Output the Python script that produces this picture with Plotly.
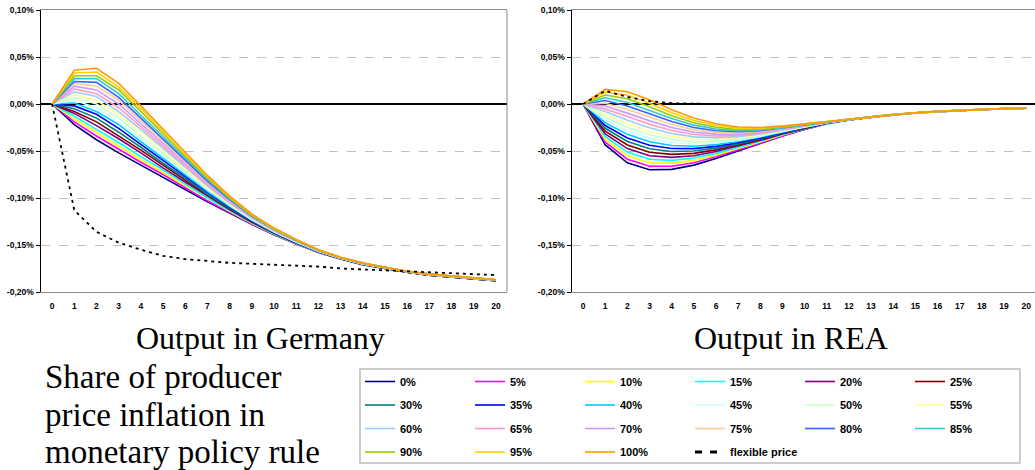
import plotly.graph_objects as go

W, H = 1035, 470

PERIODS = list(range(21))
SHARES = ["0%", "5%", "10%", "15%", "20%", "25%", "30%", "35%", "40%", "45%", "50%",
          "55%", "60%", "65%", "70%", "75%", "80%", "85%", "90%", "95%", "100%"]
COLORS = ["#000080", "#FF00FF", "#FFFF00", "#00FFFF", "#800080", "#800000", "#008080",
          "#0000FF", "#00CCFF", "#CCFFFF", "#CCFFCC", "#FFFF99", "#99CCFF", "#FF99CC",
          "#CC99FF", "#FFCC99", "#3366FF", "#33CCCC", "#99CC00", "#FFCC00", "#FF9900"]
FLEX_NAME = "flexible price"

Y_TICKS = [-0.20, -0.15, -0.10, -0.05, 0.00, 0.05, 0.10]
Y_TICKTEXT = ["-0,20%", "-0,15%", "-0,10%", "-0,05%", "0,00%", "0,05%", "0,10%"]

# ---- Output in Germany (percent deviation) ----
GER_00 = [0, -0.022, -0.038, -0.052, -0.065, -0.078, -0.091, -0.104, -0.116, -0.128, -0.139, -0.149, -0.158, -0.165, -0.171, -0.175, -0.179, -0.182, -0.184, -0.186, -0.188]
GER_05 = [0, -0.019, -0.034, -0.048, -0.062, -0.075, -0.089, -0.103, -0.1151, -0.1275, -0.1387, -0.1488, -0.1579, -0.1649, -0.1709, -0.175, -0.179, -0.182, -0.184, -0.186, -0.188]
GER_10 = [0, -0.016, -0.030, -0.045, -0.059, -0.073, -0.087, -0.101, -0.1142, -0.1269, -0.1383, -0.1485, -0.1577, -0.1648, -0.1708, -0.175, -0.179, -0.182, -0.184, -0.186, -0.188]
GER_15 = [0, -0.013, -0.027, -0.041, -0.056, -0.070, -0.085, -0.100, -0.1133, -0.1264, -0.1380, -0.1483, -0.1576, -0.1647, -0.1707, -0.175, -0.179, -0.182, -0.184, -0.186, -0.188]
GER_20 = [0, -0.010, -0.023, -0.037, -0.052, -0.068, -0.083, -0.098, -0.1124, -0.1258, -0.1376, -0.1480, -0.1574, -0.1646, -0.1706, -0.175, -0.179, -0.182, -0.184, -0.186, -0.188]
GER_25 = [0, -0.008, -0.019, -0.034, -0.049, -0.065, -0.081, -0.097, -0.1115, -0.1253, -0.1373, -0.1478, -0.1573, -0.1645, -0.1705, -0.175, -0.179, -0.182, -0.184, -0.186, -0.188]
GER_30 = [0, -0.005, -0.015, -0.030, -0.046, -0.063, -0.079, -0.096, -0.1106, -0.1247, -0.1369, -0.1475, -0.1571, -0.1644, -0.1704, -0.175, -0.179, -0.182, -0.184, -0.186, -0.188]
GER_35 = [0, -0.002, -0.011, -0.026, -0.043, -0.060, -0.077, -0.094, -0.1097, -0.1242, -0.1366, -0.1473, -0.1570, -0.1643, -0.1703, -0.1745, -0.1785, -0.1815, -0.1835, -0.1855, -0.1875]
GER_40 = [0, 0.001, -0.008, -0.022, -0.040, -0.058, -0.075, -0.093, -0.1088, -0.1236, -0.1362, -0.1470, -0.1568, -0.1642, -0.1702, -0.1745, -0.1785, -0.1815, -0.1835, -0.1855, -0.1875]
GER_45 = [0, 0.004, -0.004, -0.019, -0.037, -0.055, -0.074, -0.091, -0.1079, -0.1231, -0.1359, -0.1468, -0.1567, -0.1641, -0.1701, -0.1745, -0.1785, -0.1815, -0.1835, -0.1855, -0.1875]
GER_50 = [0, 0.007, 0.000, -0.015, -0.034, -0.053, -0.072, -0.090, -0.1070, -0.1225, -0.1355, -0.1465, -0.1565, -0.1640, -0.1700, -0.1745, -0.1785, -0.1815, -0.1835, -0.1855, -0.1875]
GER_55 = [0, 0.010, 0.004, -0.011, -0.030, -0.050, -0.070, -0.089, -0.1061, -0.1220, -0.1352, -0.1463, -0.1564, -0.1639, -0.1699, -0.1745, -0.1785, -0.1815, -0.1835, -0.1855, -0.1875]
GER_60 = [0, 0.013, 0.008, -0.008, -0.027, -0.047, -0.068, -0.087, -0.1052, -0.1214, -0.1348, -0.1460, -0.1562, -0.1638, -0.1698, -0.1745, -0.1785, -0.1815, -0.1835, -0.1855, -0.1875]
GER_65 = [0, 0.016, 0.011, -0.004, -0.024, -0.045, -0.066, -0.086, -0.1043, -0.1209, -0.1345, -0.1458, -0.1561, -0.1637, -0.1697, -0.1745, -0.1785, -0.1815, -0.1835, -0.1855, -0.1875]
GER_70 = [0, 0.019, 0.015, 0.000, -0.021, -0.042, -0.064, -0.084, -0.1034, -0.1203, -0.1341, -0.1455, -0.1559, -0.1636, -0.1696, -0.174, -0.178, -0.181, -0.183, -0.185, -0.187]
GER_75 = [0, 0.022, 0.019, 0.004, -0.018, -0.040, -0.062, -0.083, -0.1025, -0.1198, -0.1338, -0.1453, -0.1558, -0.1635, -0.1695, -0.174, -0.178, -0.181, -0.183, -0.185, -0.187]
GER_80 = [0, 0.024, 0.023, 0.007, -0.015, -0.037, -0.060, -0.082, -0.1016, -0.1192, -0.1334, -0.1450, -0.1556, -0.1634, -0.1694, -0.174, -0.178, -0.181, -0.183, -0.185, -0.187]
GER_85 = [0, 0.027, 0.027, 0.011, -0.012, -0.035, -0.058, -0.080, -0.1007, -0.1187, -0.1331, -0.1448, -0.1555, -0.1633, -0.1693, -0.174, -0.178, -0.181, -0.183, -0.185, -0.187]
GER_90 = [0, 0.030, 0.030, 0.015, -0.008, -0.032, -0.056, -0.079, -0.0998, -0.1181, -0.1327, -0.1445, -0.1553, -0.1632, -0.1692, -0.174, -0.178, -0.181, -0.183, -0.185, -0.187]
GER_95 = [0, 0.033, 0.034, 0.018, -0.005, -0.030, -0.054, -0.077, -0.0989, -0.1176, -0.1324, -0.1443, -0.1552, -0.1631, -0.1691, -0.174, -0.178, -0.181, -0.183, -0.185, -0.187]
GER_100 = [0, 0.036, 0.038, 0.022, -0.002, -0.027, -0.052, -0.076, -0.098, -0.117, -0.132, -0.144, -0.155, -0.163, -0.169, -0.174, -0.178, -0.181, -0.183, -0.185, -0.187]
GER_FLEX = [0, -0.113, -0.136, -0.1475, -0.155, -0.1615, -0.165, -0.167, -0.169, -0.170, -0.171, -0.172, -0.173, -0.175, -0.176, -0.177, -0.178, -0.179, -0.180, -0.181, -0.182]

# ---- Output in REA (percent deviation) ----
REA_00 = [0, -0.0435, -0.0625, -0.0700, -0.0695, -0.065, -0.058, -0.050, -0.042, -0.034, -0.027, -0.021, -0.0170, -0.0140, -0.0115, -0.0095, -0.0080, -0.0068, -0.0058, -0.0050, -0.0045]
REA_05 = [0, -0.0406, -0.0587, -0.0663, -0.0663, -0.0625, -0.0562, -0.0487, -0.0412, -0.0335, -0.0267, -0.0209, -0.0170, -0.0140, -0.0115, -0.0095, -0.0080, -0.0068, -0.0058, -0.0050, -0.0045]
REA_10 = [0, -0.0376, -0.0550, -0.0626, -0.0632, -0.0600, -0.0543, -0.0475, -0.0403, -0.0330, -0.0264, -0.0208, -0.0169, -0.0140, -0.0115, -0.0095, -0.0080, -0.0068, -0.0058, -0.0050, -0.0045]
REA_15 = [0, -0.0347, -0.0512, -0.0588, -0.0600, -0.0575, -0.0525, -0.0462, -0.0395, -0.0324, -0.0261, -0.0206, -0.0169, -0.0140, -0.0115, -0.0095, -0.0080, -0.0068, -0.0058, -0.0050, -0.0045]
REA_20 = [0, -0.0317, -0.0474, -0.0551, -0.0568, -0.0550, -0.0506, -0.0449, -0.0386, -0.0319, -0.0258, -0.0205, -0.0168, -0.0140, -0.0115, -0.0095, -0.0080, -0.0068, -0.0058, -0.0050, -0.0045]
REA_25 = [0, -0.0288, -0.0436, -0.0514, -0.0536, -0.0525, -0.0488, -0.0436, -0.0378, -0.0314, -0.0255, -0.0204, -0.0168, -0.0140, -0.0115, -0.0095, -0.0080, -0.0068, -0.0058, -0.0050, -0.0045]
REA_30 = [0, -0.0258, -0.0399, -0.0477, -0.0505, -0.0500, -0.0469, -0.0424, -0.0369, -0.0309, -0.0252, -0.0203, -0.0167, -0.0140, -0.0115, -0.0095, -0.0080, -0.0068, -0.0058, -0.0050, -0.0045]
REA_35 = [0, -0.0229, -0.0361, -0.0439, -0.0473, -0.0475, -0.0451, -0.0411, -0.0361, -0.0303, -0.0249, -0.0201, -0.0167, -0.0138, -0.0113, -0.0094, -0.0079, -0.0067, -0.0057, -0.0050, -0.0044]
REA_40 = [0, -0.0199, -0.0323, -0.0402, -0.0441, -0.0450, -0.0432, -0.0398, -0.0352, -0.0298, -0.0246, -0.0200, -0.0166, -0.0138, -0.0113, -0.0094, -0.0079, -0.0067, -0.0057, -0.0050, -0.0044]
REA_45 = [0, -0.0170, -0.0285, -0.0365, -0.0409, -0.0425, -0.0414, -0.0385, -0.0344, -0.0293, -0.0243, -0.0199, -0.0166, -0.0138, -0.0113, -0.0094, -0.0079, -0.0067, -0.0057, -0.0050, -0.0044]
REA_50 = [0, -0.0140, -0.0248, -0.0328, -0.0378, -0.0400, -0.0395, -0.0373, -0.0335, -0.0288, -0.0240, -0.0198, -0.0165, -0.0138, -0.0113, -0.0094, -0.0079, -0.0067, -0.0057, -0.0050, -0.0044]
REA_55 = [0, -0.0111, -0.0210, -0.0290, -0.0346, -0.0375, -0.0377, -0.0360, -0.0327, -0.0282, -0.0237, -0.0196, -0.0165, -0.0138, -0.0113, -0.0094, -0.0079, -0.0067, -0.0057, -0.0050, -0.0044]
REA_60 = [0, -0.0081, -0.0172, -0.0253, -0.0314, -0.0350, -0.0358, -0.0347, -0.0318, -0.0277, -0.0234, -0.0195, -0.0164, -0.0138, -0.0113, -0.0094, -0.0079, -0.0067, -0.0057, -0.0050, -0.0044]
REA_65 = [0, -0.0052, -0.0134, -0.0216, -0.0282, -0.0325, -0.0340, -0.0334, -0.0310, -0.0272, -0.0231, -0.0194, -0.0164, -0.0138, -0.0113, -0.0094, -0.0079, -0.0067, -0.0057, -0.0050, -0.0044]
REA_70 = [0, -0.0022, -0.0097, -0.0179, -0.0251, -0.0300, -0.0321, -0.0322, -0.0301, -0.0267, -0.0228, -0.0193, -0.0163, -0.0135, -0.0110, -0.0093, -0.0078, -0.0066, -0.0056, -0.0049, -0.0043]
REA_75 = [0, 0.0008, -0.0059, -0.0141, -0.0219, -0.0275, -0.0303, -0.0309, -0.0293, -0.0261, -0.0225, -0.0191, -0.0163, -0.0135, -0.0110, -0.0093, -0.0078, -0.0066, -0.0056, -0.0049, -0.0043]
REA_80 = [0, 0.0037, -0.0021, -0.0104, -0.0187, -0.0250, -0.0284, -0.0296, -0.0284, -0.0256, -0.0222, -0.0190, -0.0162, -0.0135, -0.0110, -0.0093, -0.0078, -0.0066, -0.0056, -0.0049, -0.0043]
REA_85 = [0, 0.0067, 0.0017, -0.0067, -0.0155, -0.0225, -0.0266, -0.0283, -0.0276, -0.0251, -0.0219, -0.0189, -0.0162, -0.0135, -0.0110, -0.0093, -0.0078, -0.0066, -0.0056, -0.0049, -0.0043]
REA_90 = [0, 0.0096, 0.0055, -0.0030, -0.0124, -0.0200, -0.0247, -0.0271, -0.0267, -0.0246, -0.0216, -0.0188, -0.0161, -0.0135, -0.0110, -0.0093, -0.0078, -0.0066, -0.0056, -0.0049, -0.0043]
REA_95 = [0, 0.0126, 0.0092, 0.0008, -0.0092, -0.0175, -0.0229, -0.0258, -0.0259, -0.0240, -0.0213, -0.0186, -0.0161, -0.0135, -0.0110, -0.0093, -0.0078, -0.0066, -0.0056, -0.0049, -0.0043]
REA_100 = [0, 0.0155, 0.0130, 0.0045, -0.0060, -0.0150, -0.0210, -0.0245, -0.0250, -0.0235, -0.0210, -0.0185, -0.0160, -0.0135, -0.0110, -0.0093, -0.0078, -0.0066, -0.0056, -0.0049, -0.0043]
REA_FLEX = [0, 0.014, 0.0075, 0.003, 0.0008, 0.0002, 0, 0, 0, 0, 0, 0, 0, 0, 0, 0, 0, 0, 0, 0, 0]

GER_SERIES = [GER_00, GER_05, GER_10, GER_15, GER_20, GER_25, GER_30, GER_35, GER_40, GER_45, GER_50,
              GER_55, GER_60, GER_65, GER_70, GER_75, GER_80, GER_85, GER_90, GER_95, GER_100]
REA_SERIES = [REA_00, REA_05, REA_10, REA_15, REA_20, REA_25, REA_30, REA_35, REA_40, REA_45, REA_50,
              REA_55, REA_60, REA_65, REA_70, REA_75, REA_80, REA_85, REA_90, REA_95, REA_100]

TITLE_LEFT = "Output in Germany"
TITLE_RIGHT = "Output in REA"
SIDE_TEXT = ["Share of producer", "price inflation in", "monetary policy rule"]


def legend_key(i):
    c = i % 6
    return "legend" if c == 0 else "legend%d" % (c + 1)


fig = go.Figure()

for i, name in enumerate(SHARES):
    lk = legend_key(i)
    fig.add_trace(go.Scatter(x=PERIODS, y=GER_SERIES[i], mode="lines", name=name,
                             line=dict(color=COLORS[i], width=1.6),
                             legend=lk, legendgroup=name, xaxis="x", yaxis="y"))
    fig.add_trace(go.Scatter(x=PERIODS, y=REA_SERIES[i], mode="lines", name=name,
                             line=dict(color=COLORS[i], width=1.6), showlegend=False,
                             legend=lk, legendgroup=name, xaxis="x2", yaxis="y2"))

flex_lk = legend_key(21)
fig.add_trace(go.Scatter(x=PERIODS, y=GER_FLEX, mode="lines", name=FLEX_NAME, showlegend=False,
                         line=dict(color="black", width=1.8, dash="3px,4px"),
                         legend=flex_lk, legendgroup=FLEX_NAME, xaxis="x", yaxis="y"))
fig.add_trace(go.Scatter(x=PERIODS, y=REA_FLEX, mode="lines", name=FLEX_NAME, showlegend=False,
                         line=dict(color="black", width=1.8, dash="3px,4px"),
                         legend=flex_lk, legendgroup=FLEX_NAME, xaxis="x2", yaxis="y2"))
# legend sample for the flexible-price line
fig.add_trace(go.Scatter(x=[None], y=[None], mode="lines", name=FLEX_NAME,
                         line=dict(color="black", width=3, dash="7px,8px"),
                         legend=flex_lk, legendgroup=FLEX_NAME, xaxis="x", yaxis="y"))

tickfont = dict(family="Liberation Sans", size=8.5, color="black", weight="bold")


def xaxis_cfg(domain, rng):
    return dict(domain=domain, range=rng, tickvals=PERIODS, ticktext=[str(p) for p in PERIODS],
                tickfont=tickfont, showgrid=False, zeroline=False, showline=True,
                linecolor="#8c8c8c", linewidth=1, mirror=True, ticks="outside",
                ticklen=6, tickcolor="rgba(0,0,0,0)", fixedrange=True)


def yaxis_cfg(domain, anchor):
    return dict(domain=domain, range=[-0.2, 0.1], tickvals=Y_TICKS, ticktext=Y_TICKTEXT,
                tickfont=tickfont, showgrid=True, gridcolor="#c0c0c0", griddash="dash",
                gridwidth=1, zeroline=True, zerolinecolor="black", zerolinewidth=1.5,
                showline=True, linecolor="black", linewidth=1.5, ticks="outside",
                ticklen=4, tickcolor="black", tickwidth=1, anchor=anchor, fixedrange=True)


ydom = [1 - 292 / H, 1 - 10 / H]
layout = dict(
    width=W, height=H, margin=dict(l=0, r=0, t=0, b=0, autoexpand=False),
    paper_bgcolor="white", plot_bgcolor="white",
    xaxis=xaxis_cfg([41 / W, 507 / W], [-0.5, 20.5]),
    yaxis=yaxis_cfg(ydom, "x"),
    xaxis2=dict(xaxis_cfg([572 / W, 1.0], [-0.5, 20.4]), anchor="y2"),
    yaxis2=yaxis_cfg(ydom, "x2"),
    showlegend=True,
)
layout["xaxis"]["anchor"] = "y"

col_x = [360, 470, 580, 690, 800, 910]
for c in range(6):
    key = "legend" if c == 0 else "legend%d" % (c + 1)
    layout[key] = dict(x=col_x[c] / W, y=1 - 367 / H, xanchor="left", yanchor="top",
                       orientation="v", bgcolor="rgba(0,0,0,0)", borderwidth=0,
                       tracegroupgap=4.5, itemwidth=30,
                       font=dict(family="Liberation Sans", size=11, color="black", weight="bold"))

fig.update_layout(**layout)

# plot-area right border of left chart and legend frame
fig.add_shape(type="line", xref="x domain", yref="y domain", x0=1, x1=1, y0=0, y1=1,
              line=dict(color="#8c8c8c", width=1))
fig.add_shape(type="rect", xref="paper", yref="paper", x0=360 / W, x1=1020 / W,
              y0=1 - 463 / H, y1=1 - 369 / H, line=dict(color="#bdbdbd", width=1.5),
              fillcolor="rgba(0,0,0,0)", layer="below")

serif = "Liberation Serif"
fig.add_annotation(text=TITLE_LEFT, xref="paper", yref="paper", x=260 / W, y=1 - 338 / H,
                   xanchor="center", yanchor="middle", showarrow=False,
                   font=dict(family=serif, size=32, color="black"))
fig.add_annotation(text=TITLE_RIGHT, xref="paper", yref="paper", x=791 / W, y=1 - 338 / H,
                   xanchor="center", yanchor="middle", showarrow=False,
                   font=dict(family=serif, size=32, color="black"))
for j, (line, yc) in enumerate(zip(SIDE_TEXT, [377, 415, 452])):
    fig.add_annotation(text=line, xref="paper", yref="paper", x=43 / W, y=1 - yc / H,
                       xanchor="left", yanchor="middle", showarrow=False,
                       font=dict(family=serif, size=33, color="black"))

fig.write_html("out.html", config={"displayModeBar": False, "staticPlot": True},
               post_script="document.body.style.margin='0px';document.body.style.overflow='hidden';")
